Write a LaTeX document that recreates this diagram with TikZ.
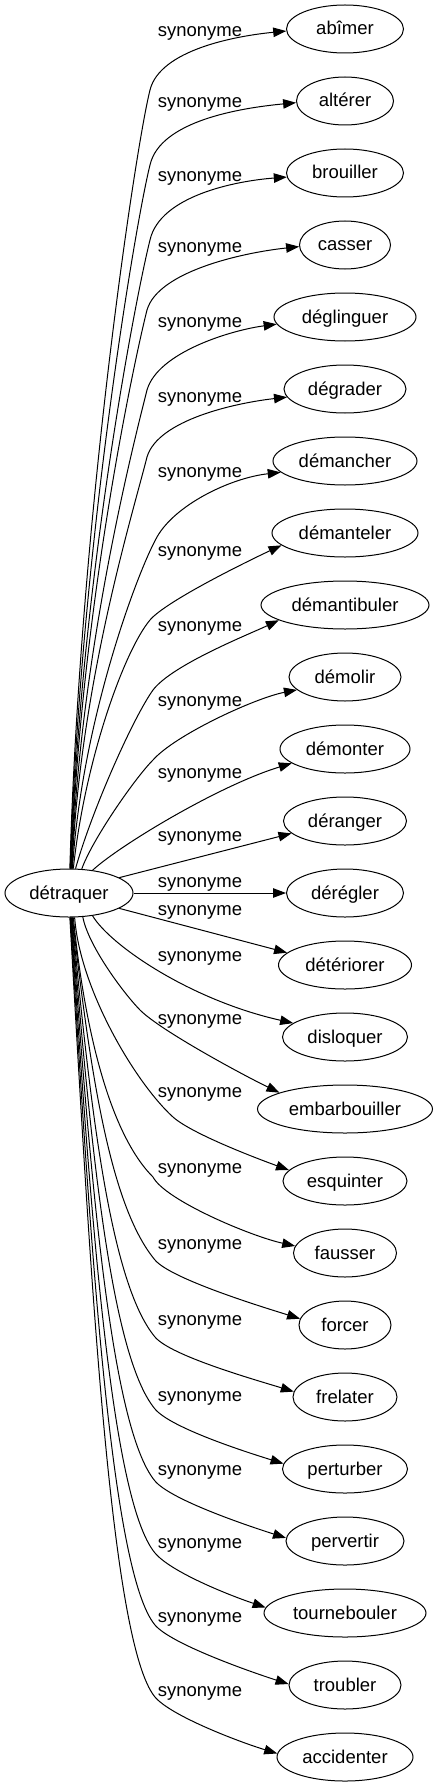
\documentclass[tikz,border=0pt]{standalone}
\usepackage{fontspec}
\setmainfont{Liberation Sans}
\usetikzlibrary{shapes.geometric,arrows.meta}
\newcommand\lblfont{\fontsize{18.5pt}{22pt}\selectfont}
\begin{document}
\begin{tikzpicture}[x=1pt,y=-1pt,
  word/.style={ellipse, draw, line width=1pt, inner sep=0pt, minimum height=48pt,
    text height=12pt, text depth=0pt, font=\lblfont},
  lab/.style={inner sep=0pt, font=\lblfont},
  edge/.style={line width=1pt, -{Triangle[length=13pt,width=9.5pt]}}]
\useasboundingbox (0,0) rectangle (438,1787);
% central node
\node[word, minimum width=128pt] (det) at (69,893) {détraquer};
% targets
\node[word, minimum width=117pt] (t0) at (345,29) {abîmer};
\node[word, minimum width=97pt] (t1) at (345,101) {altérer};
\node[word, minimum width=117pt] (t2) at (345,173) {brouiller};
\node[word, minimum width=91pt] (t3) at (345,245) {casser};
\node[word, minimum width=142pt] (t4) at (345,317) {déglinguer};
\node[word, minimum width=122pt] (t5) at (345,389) {dégrader};
\node[word, minimum width=144pt] (t6) at (345,461) {démancher};
\node[word, minimum width=146pt] (t7) at (345,533) {démanteler};
\node[word, minimum width=168pt] (t8) at (345,605) {démantibuler};
\node[word, minimum width=112pt] (t9) at (345,677) {démolir};
\node[word, minimum width=130pt] (t10) at (345,749) {démonter};
\node[word, minimum width=123pt] (t11) at (345,821) {déranger};
\node[word, minimum width=117pt] (t12) at (345,893) {dérégler};
\node[word, minimum width=133pt] (t13) at (345,965) {détériorer};
\node[word, minimum width=125pt] (t14) at (345,1037) {disloquer};
\node[word, minimum width=175pt] (t15) at (345,1109) {embarbouiller};
\node[word, minimum width=124pt] (t16) at (345,1181) {esquinter};
\node[word, minimum width=103pt] (t17) at (345,1253) {fausser};
\node[word, minimum width=92pt] (t18) at (345,1325) {forcer};
\node[word, minimum width=104pt] (t19) at (345,1397) {frelater};
\node[word, minimum width=125pt] (t20) at (345,1469) {perturber};
\node[word, minimum width=118pt] (t21) at (345,1541) {pervertir};
\node[word, minimum width=162pt] (t22) at (345,1613) {tournebouler};
\node[word, minimum width=112pt] (t23) at (345,1685) {troubler};
\node[word, minimum width=136pt] (t24) at (345,1757) {accidenter};
% labels
\node[lab] (l0) at (200,33) {synonyme};
\node[lab] (l1) at (200,104) {synonyme};
\node[lab] (l2) at (200,178) {synonyme};
\node[lab] (l3) at (200,249) {synonyme};
\node[lab] (l4) at (200,324) {synonyme};
\node[lab] (l5) at (200,399) {synonyme};
\node[lab] (l6) at (200,474) {synonyme};
\node[lab] (l7) at (200,553) {synonyme};
\node[lab] (l8) at (200,628) {synonyme};
\node[lab] (l9) at (200,703) {synonyme};
\node[lab] (l10) at (200,775) {synonyme};
\node[lab] (l11) at (200,838) {synonyme};
\node[lab] (l12) at (200,884) {synonyme};
\node[lab] (l13) at (200,912) {synonyme};
\node[lab] (l14) at (200,958) {synonyme};
\node[lab] (l15) at (200,1021) {synonyme};
\node[lab] (l16) at (200,1094) {synonyme};
\node[lab] (l17) at (200,1170) {synonyme};
\node[lab] (l18) at (200,1246) {synonyme};
\node[lab] (l19) at (200,1322) {synonyme};
\node[lab] (l20) at (200,1398) {synonyme};
\node[lab] (l21) at (200,1472) {synonyme};
\node[lab] (l22) at (200,1545) {synonyme};
\node[lab] (l23) at (200,1619) {synonyme};
\node[lab] (l24) at (200,1693) {synonyme};
% upper edges
\draw[edge] (det.88) .. controls (80,518) and (135.4,148) .. (150,90) .. controls (160,50) and (235,36) .. (t0.182);
\draw[edge] (det.87) .. controls (80,553) and (135.4,223) .. (150,165) .. controls (160,121) and (240,108) .. (t1.182);
\draw[edge] (det.86) .. controls (80,586.5) and (135.4,298) .. (150,240) .. controls (160,196) and (235,181) .. (t2.184);
\draw[edge] (det.85) .. controls (80,618) and (132.4,368) .. (147,310) .. controls (158,272) and (240,253) .. (t3.182);
\draw[edge] (det.84) .. controls (80,654) and (132.4,448) .. (147,390) .. controls (158,352) and (232,330) .. (t4.186);
\draw[edge] (det.83) .. controls (80,684) and (132.4,515) .. (147,457) .. controls (158,420) and (235,403) .. (t5.188);
\draw[edge] (det.82) .. controls (82,720) and (137.4,571.8) .. (157,537) .. controls (175,505) and (230,478) .. (t6.190);
\draw[edge] (det.80) .. controls (85,760) and (124,651) .. (150,620) .. controls (166,601) and (250,560) .. (t7.191);
\draw[edge] (det.75) .. controls (92,810) and (133,718) .. (153,690) .. controls (172,665) and (247.7,634.8) .. (t8.193);
\draw[edge] (det.62) .. controls (92,840) and (135,778) .. (153,760) .. controls (175,735) and (255,698) .. (t9.195);
\draw[edge] (det.44) .. controls (120,845) and (220,785) .. (t10.195);
\draw[edge] (det.17) -- (t11.193);
\draw[edge] (det.east) -- (t12.west);
% lower edges
\draw[edge] (det.343) -- (t13.168);
\draw[edge] (det.316) .. controls (110,945) and (190,1000) .. (t14.165);
\draw[edge] (det.300) .. controls (88,945) and (122.5,992) .. (140,1010) .. controls (161,1031) and (245,1076) .. (t15.166);
\draw[edge] (det.283) .. controls (80,990) and (136,1083.5) .. (173,1117) .. controls (191.6,1133.7) and (257,1158.5) .. (t16.169);
\draw[edge] (det.280) .. controls (85,1033) and (110.6,1134.6) .. (153,1177) .. controls (165,1200) and (250,1236) .. (t17.172);
\draw[edge] (det.278) .. controls (90,1071) and (110,1206) .. (155,1260) .. controls (171,1279) and (262.5,1307) .. (t18.172);
\draw[edge] (det.277) .. controls (90,1105.5) and (110,1283) .. (155,1337) .. controls (171,1356) and (256,1380) .. (t19.174);
\draw[edge] (det.276) .. controls (90,1138) and (110,1355) .. (155,1409) .. controls (171,1428) and (246,1452) .. (t20.175);
\draw[edge] (det.275) .. controls (90,1170) and (110,1427) .. (155,1481) .. controls (171,1500) and (248.5,1526) .. (t21.177);
\draw[edge] (det.274) .. controls (90,1203) and (110,1499) .. (155,1553) .. controls (171,1572) and (228.6,1595) .. (t22.176);
\draw[edge] (det.273) .. controls (90,1235) and (110,1571) .. (155,1625) .. controls (171,1644) and (251,1672) .. (t23.179);
\draw[edge] (det.272) .. controls (90,1267) and (110,1643) .. (155,1697) .. controls (171,1716) and (239.5,1742) .. (t24.177);
\end{tikzpicture}
\end{document}
